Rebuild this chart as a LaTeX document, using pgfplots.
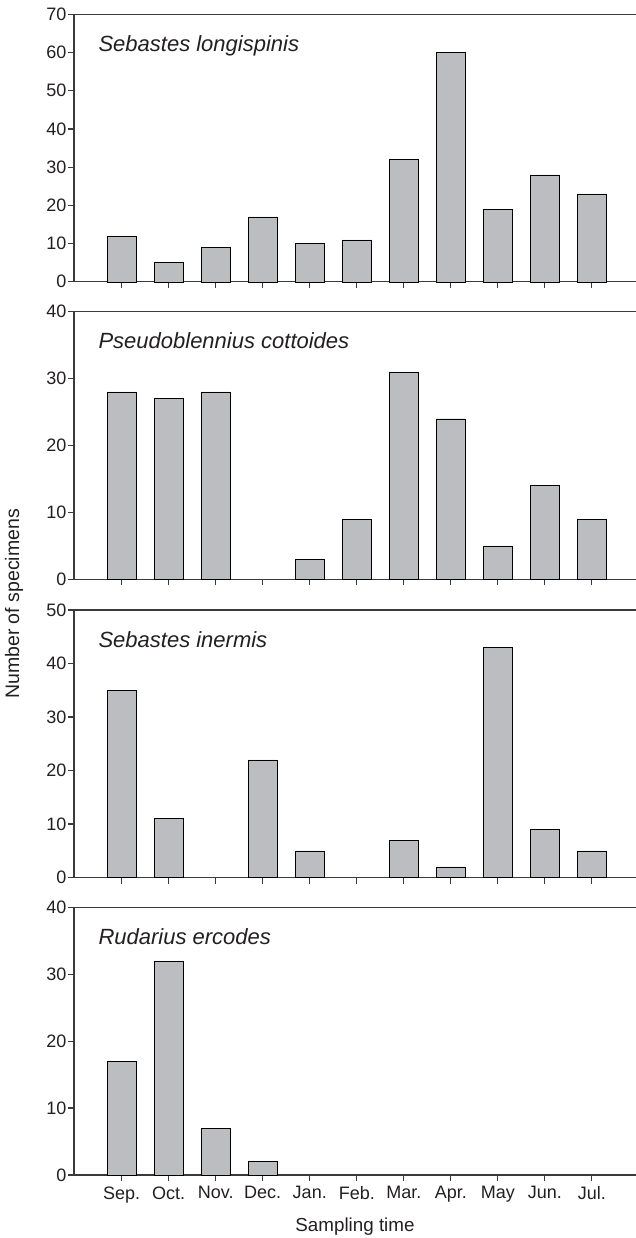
\documentclass[border=0pt]{standalone}
\usepackage{pgfplots}
\pgfplotsset{compat=1.18}
\usepackage{fontspec}
\setmainfont{Liberation Sans}
\definecolor{barfill}{HTML}{BCBDC1}
\definecolor{ink}{HTML}{231F20}
\definecolor{axisc}{HTML}{3A3A3A}
\tikzset{species/.style={anchor=base west, font=\fontsize{22}{26}\selectfont\itshape, text=ink}}
\pgfplotsset{
 panel/.style={
  scale only axis, width=562pt, height=267.5pt,
  xmin=-1.015, xmax=10.94, ymin=0,
  axis x line*=box, axis y line*=left,
  axis line style={axisc, line width=1.4pt, -},
  every outer y axis line/.append style={-},
  every inner y axis line/.append style={-},
  xtick={0,...,10}, xtick pos=bottom, ytick pos=left,
  tick align=outside, major tick length=6pt,
  tick style={axisc, line width=1.3pt},
  xticklabels={},
  tick label style={font=\fontsize{18}{21}\selectfont, text=ink},
  yticklabel style={xshift=2pt},
  xticklabel style={yshift=-2pt},
  /pgf/number format/assume math mode=true,
  ybar, bar width=0.617,
  cycle list={{fill=barfill, draw=ink, line width=1.7pt}},
  clip=false,
 },
}
\begin{document}
\begin{tikzpicture}
\useasboundingbox (0,0) rectangle (636pt,-1238pt);
% Panel 1
\begin{axis}[panel, at={(74pt,-14.3pt)}, anchor=north west, ymax=70, ytick={0,10,...,70}]
\addplot coordinates {(0,12) (1,5) (2,9) (3,17) (4,10) (5,11) (6,32) (7,60) (8,19) (9,28) (10,23)};
\node[species] at ([xshift=21pt,yshift=-37pt]rel axis cs:0,1) {Sebastes longispinis};
\end{axis}
% Panel 2
\begin{axis}[panel, at={(74pt,-311.7pt)}, anchor=north west, ymax=40, ytick={0,10,...,40}]
\addplot coordinates {(0,28) (1,27) (2,28) (4,3) (5,9) (6,31) (7,24) (8,5) (9,14) (10,9)};
\node[species] at ([xshift=21pt,yshift=-37pt]rel axis cs:0,1) {Pseudoblennius cottoides};
\end{axis}
% Panel 3
\begin{axis}[panel, at={(74pt,-610pt)}, anchor=north west, ymax=50, ytick={0,10,...,50}]
\addplot coordinates {(0,35) (1,11) (3,22) (4,5) (6,7) (7,2) (8,43) (9,9) (10,5)};
\node[species] at ([xshift=21pt,yshift=-37pt]rel axis cs:0,1) {Sebastes inermis};
\end{axis}
% Panel 4
\begin{axis}[panel, at={(74pt,-907.5pt)}, anchor=north west, ymax=40, ytick={0,10,...,40},
  xticklabels={Sep.,Oct.,Nov.,Dec.,Jan.,Feb.,Mar.,Apr.,May,Jun.,Jul.}]
\addplot coordinates {(0,17) (1,32) (2,7) (3,2)};
\node[species] at ([xshift=21pt,yshift=-37pt]rel axis cs:0,1) {Rudarius ercodes};
\end{axis}
\node[font=\fontsize{18.8}{22}\selectfont, text=ink] at (355pt,-1227pt) {Sampling time};
\node[font=\fontsize{19.5}{22}\selectfont, text=ink, rotate=90] at (14pt,-604pt) {Number of specimens};
\end{tikzpicture}
\end{document}
